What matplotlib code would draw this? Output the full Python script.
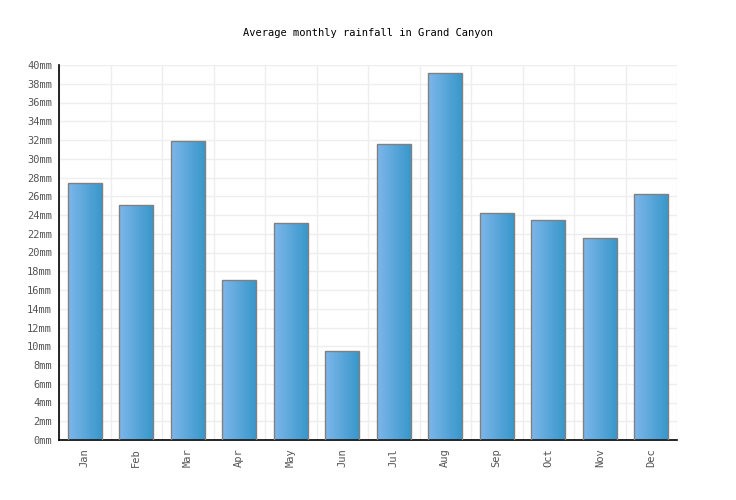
import numpy as np
import matplotlib
matplotlib.use("Agg")
import matplotlib.pyplot as plt
from matplotlib.colors import LinearSegmentedColormap

months = ["Jan", "Feb", "Mar", "Apr", "May", "Jun", "Jul", "Aug", "Sep", "Oct", "Nov", "Dec"]
rainfall_mm = [27.4, 25.1, 31.9, 17.1, 23.1, 9.5, 31.6, 39.2, 24.2, 23.5, 21.6, 26.2]
y_ticks = list(range(0, 41, 2))
y_tick_labels = [f"{v}mm" for v in y_ticks]
title = "Average monthly rainfall in Grand Canyon"

plt.rcParams['font.family'] = ['DejaVu Sans Mono']

fig = plt.figure(figsize=(7.36, 5.0), dpi=100)
ax = fig.add_axes([59/736, 1-440/500, (677-59)/736, (440-65)/500])

x = np.arange(len(months))
ax.set_xlim(-0.5, len(months)-0.5)
ax.set_ylim(0, 40)

cmap = LinearSegmentedColormap.from_list("g", ["#7db7eb", "#3997ca"])
grad = np.linspace(0, 1, 256).reshape(1, -1)
bars = ax.bar(x, rainfall_mm, width=0.66, facecolor="none", edgecolor="#808080", linewidth=1.0, zorder=3)
for b in bars:
    x0, y0 = b.get_x(), b.get_y()
    w, h = b.get_width(), b.get_height()
    im = ax.imshow(grad, cmap=cmap, extent=[x0, x0+w, y0, y0+h], aspect="auto", zorder=2, interpolation="bicubic")
    im.set_clip_path(b)
ax.set_xlim(-0.5, len(months)-0.5)
ax.set_ylim(0, 40)

ax.set_yticks(y_ticks)
ax.set_yticklabels(y_tick_labels)
ax.set_xticks(x)
ax.set_xticklabels(months, rotation=90)
ax.set_xticks(np.arange(-0.5, len(months)), minor=True)
ax.tick_params(axis="both", which="both", length=0, labelsize=7.5, labelcolor="#555555")
ax.tick_params(axis="x", pad=6)
ax.tick_params(axis="y", pad=5)
ax.grid(True, axis="y", which="major", color="#eeeeee", linewidth=1, zorder=0)
ax.grid(True, axis="x", which="minor", color="#eeeeee", linewidth=1, zorder=0)
ax.set_axisbelow(True)
for s in ["top", "right"]:
    ax.spines[s].set_visible(False)
ax.spines["left"].set_color("black")
ax.spines["bottom"].set_color("black")
ax.spines["left"].set_linewidth(1.2)
ax.spines["bottom"].set_linewidth(1.2)

fig.text(368/736, 1-33/500, title, ha="center", va="center", fontsize=7.5, color="black")

fig.savefig("out.png", dpi=100)
